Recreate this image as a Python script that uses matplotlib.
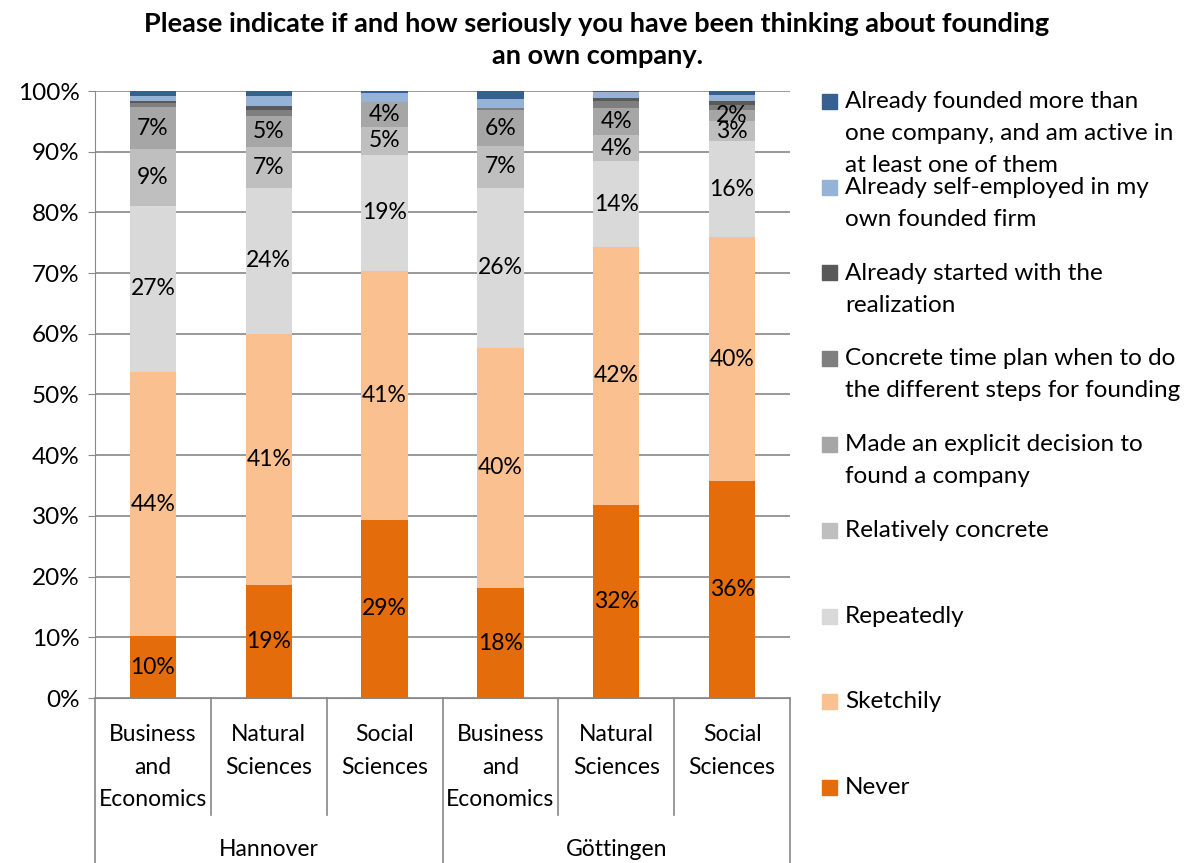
import numpy as np
import matplotlib.pyplot as plt
from matplotlib.patches import Rectangle

plt.rcParams['font.family'] = ['Lato', 'DejaVu Sans']

subjects = ['Business\nand\nEconomics', 'Natural\nSciences', 'Social\nSciences',
            'Business\nand\nEconomics', 'Natural\nSciences', 'Social\nSciences']
cities = ['Hannover', 'Göttingen']

# stacked from the bottom up, percent of respondents
series = ['Never', 'Sketchily', 'Repeatedly', 'Relatively concrete',
          'Made an explicit decision to\nfound a company',
          'Concrete time plan when to do\nthe different steps for founding',
          'Already started with the\nrealization',
          'Already self-employed in my\nown founded firm',
          'Already founded more than\none company, and am active in\nat least one of them']
never = [10.2, 18.6, 29.4, 18.1, 31.8, 35.7]
sketchily = [43.5, 41.4, 41.0, 39.6, 42.5, 40.2]
repeatedly = [27.4, 24.0, 19.1, 26.4, 14.1, 15.8]
relatively = [9.4, 6.8, 4.6, 6.8, 4.4, 3.4]
decision = [6.8, 5.0, 4.1, 6.0, 4.4, 1.8]
time_plan = [0.8, 1.0, 0.0, 0.3, 1.1, 0.8]
started = [0.2, 0.8, 0.0, 0.0, 0.6, 0.7]
self_employed = [0.9, 1.5, 1.5, 1.5, 1.0, 1.0]
more_than_one = [0.8, 0.9, 0.3, 1.3, 0.1, 0.6]
colors = ['#e46c0a', '#fac090', '#d9d9d9', '#bfbfbf', '#a6a6a6',
          '#7f7f7f', '#595959', '#95b3d7', '#376092']

values = [never, sketchily, repeatedly, relatively, decision,
          time_plan, started, self_employed, more_than_one]

fig = plt.figure(figsize=(11.95, 8.63), dpi=100)
W, H = 1195, 863
ax = fig.add_axes([95 / W, (H - 698) / H, 695 / W, 607 / H])

x = np.arange(len(subjects))
bottom = np.zeros(len(subjects))
for i, (vals, col) in enumerate(zip(values, colors)):
    vals = np.array(vals)
    ax.bar(x, vals, 0.4, bottom=bottom, color=col, zorder=2)
    if i < 5:
        for xi, b, v in zip(x, bottom, vals):
            ax.text(xi, b + v / 2, f'{v:.0f}%', ha='center', va='center',
                    fontsize=16.5, color='black', zorder=3)
    bottom += vals

ax.set_xlim(-0.5, 5.5)
ax.set_ylim(0, 100)
ax.set_yticks(np.arange(0, 101, 10))
ax.set_yticklabels([f'{v}%' for v in range(0, 101, 10)], fontsize=17.5)
ax.yaxis.grid(True, color='#888888', linewidth=1.2, zorder=0)
ax.set_xticks([])
for s in ['top', 'right']:
    ax.spines[s].set_visible(False)
ax.spines['left'].set_color('#888888')
ax.spines['bottom'].set_color('#888888')
ax.tick_params(axis='y', length=5, color='#888888', pad=6)

# two-level category axis
tr = ax.get_xaxis_transform()
for k in range(len(subjects) + 1):
    low = -0.272 if k % 3 == 0 else -0.193
    ax.plot([k - 0.5, k - 0.5], [0, low], transform=tr, color='#888888',
            linewidth=1.2, clip_on=False)
for xi, lab in zip(x, subjects):
    ax.text(xi, -0.043, lab, transform=tr, ha='center', va='top',
            fontsize=16.5, linespacing=1.68)
for g, city in enumerate(cities):
    ax.text(g * 3 + 1, -0.25, city, transform=tr, ha='center', va='center',
            fontsize=16.5)

fig.text(597 / W, 1 - 40 / H,
         'Please indicate if and how seriously you have been thinking about founding\nan own company.',
         ha='center', va='center', fontsize=19.5, fontweight='bold', linespacing=1.45)

# legend, top entry is the last stacked series
ys = np.linspace(101, 787, len(series))
for y, name, col in zip(ys, series[::-1], colors[::-1]):
    fig.patches.append(Rectangle((822 / W, 1 - (y + 8) / H), 15 / W, 15 / H,
                                 transform=fig.transFigure, color=col))
    fig.text(845 / W, 1 - (y - 10) / H, name, ha='left', va='top',
             fontsize=17.5, linespacing=1.65)

fig.savefig('out.png', dpi=100)
